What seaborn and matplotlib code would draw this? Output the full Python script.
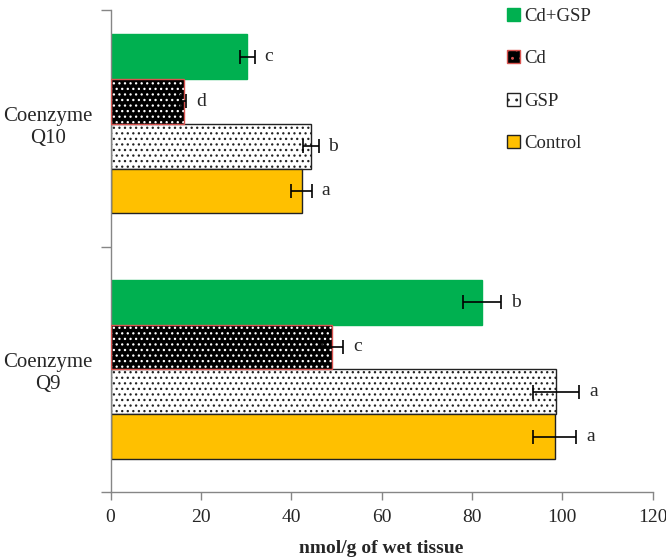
import numpy as np
import pandas as pd
import matplotlib
matplotlib.use('Agg')
import matplotlib.pyplot as plt
import seaborn as sns

# данные
categories = ['Coenzyme\nQ10', 'Coenzyme\nQ9']
groups = ['Cd+GSP', 'Cd', 'GSP', 'Control']
q10_values = [30.3, 16.2, 44.3, 42.3]
q9_values = [82.3, 49.1, 98.6, 98.3]
q10_errors = [1.6, 0.6, 1.8, 2.3]
q9_errors = [4.2, 2.4, 5.2, 4.8]
q10_letters = ['c', 'd', 'b', 'a']
q9_letters = ['b', 'c', 'a', 'a']

colors = {'Cd+GSP': '#00B050', 'Cd': '#000000', 'GSP': '#FFFFFF', 'Control': '#FFC000'}

df = pd.DataFrame({
    'category': [categories[0]] * 4 + [categories[1]] * 4,
    'group': groups + groups,
    'value': q10_values + q9_values,
    'err': q10_errors + q9_errors,
    'letter': q10_letters + q9_letters,
})

sns.set_style('white')
plt.rcParams['font.family'] = ['Liberation Serif', 'DejaVu Serif']
plt.rcParams['hatch.linewidth'] = 0.9

fig = plt.figure(figsize=(6.66, 5.58), dpi=100)
ax = fig.add_axes([0.166, 0.118, 0.814, 0.864])

sns.barplot(data=df, x='value', y='category', hue='group', order=categories,
            hue_order=groups, palette=colors, orient='h', width=0.73,
            saturation=1, errorbar=None, ax=ax, legend=False)

# оформление столбиков (штриховка, рамки)
for grp, cont in zip(groups, ax.containers):
    for bar in cont:
        if grp == 'Cd':
            bar.set_facecolor('black')
            bar.set_edgecolor('white')
            bar.set_hatch('...')
            bar.set_linewidth(0)
            x, y = bar.get_xy()
            ax.add_patch(plt.Rectangle((x, y), bar.get_width(), bar.get_height(),
                                       fill=False, edgecolor='#D9534F', lw=1.0, zorder=3))
        elif grp == 'GSP':
            bar.set_facecolor('white')
            bar.set_edgecolor('#222222')
            bar.set_hatch('...')
            bar.set_linewidth(1.0)
        else:
            bar.set_edgecolor('#222222' if grp == 'Control' else colors[grp])
            bar.set_linewidth(1.0)

# планки погрешностей и буквы
for grp, cont in zip(groups, ax.containers):
    sub = df[df['group'] == grp].set_index('category').loc[categories]
    for bar, (_, row) in zip(cont, sub.iterrows()):
        yc = bar.get_y() + bar.get_height() / 2
        ax.errorbar(row['value'], yc, xerr=row['err'], fmt='none', ecolor='black',
                    elinewidth=1.2, capsize=5, capthick=1.2, zorder=4)
        ax.annotate(row['letter'], (row['value'] + row['err'], yc), xytext=(7, 0),
                    textcoords='offset points', va='center', ha='left', fontsize=14)

ytop = -0.463
ax.set_xlim(0, 120)
ax.set_ylim(1.5, ytop)
ax.set_xticks(np.arange(0, 121, 20))
ax.set_yticks([ytop, 0.5, 1.5], minor=True)
ax.tick_params(axis='y', which='major', length=0, labelsize=15, pad=13)
ax.tick_params(axis='y', which='minor', length=7, width=1, color='#868686', left=True)
ax.tick_params(axis='x', length=6, width=1, color='#868686', bottom=True, labelsize=14, pad=6)
for lab in ax.get_yticklabels():
    lab.set_multialignment('center')
ax.set_ylabel('')
ax.set_xlabel('nmol/g of wet tissue', fontsize=14, fontweight='bold', labelpad=10)

for s in ['top', 'right']:
    ax.spines[s].set_visible(False)
for s in ['left', 'bottom']:
    ax.spines[s].set_color('#868686')
    ax.spines[s].set_linewidth(1)

# легенда
handles = []
for grp in groups:
    if grp == 'Cd':
        h = plt.Rectangle((0, 0), 1, 1, facecolor='black', edgecolor='#D9534F', hatch='..', lw=1)
    elif grp == 'GSP':
        h = plt.Rectangle((0, 0), 1, 1, facecolor='white', edgecolor='#222222', hatch='..', lw=1)
    elif grp == 'Control':
        h = plt.Rectangle((0, 0), 1, 1, facecolor=colors[grp], edgecolor='#222222', lw=1)
    else:
        h = plt.Rectangle((0, 0), 1, 1, facecolor=colors[grp], edgecolor=colors[grp], lw=1)
    handles.append(h)
ax.legend(handles, groups, loc='upper left', bbox_to_anchor=(0.70, 1.04), frameon=False,
          fontsize=13.5, handlelength=0.7, handleheight=0.7, handletextpad=0.2,
          labelspacing=1.35)

fig.savefig('out.png', dpi=100)
